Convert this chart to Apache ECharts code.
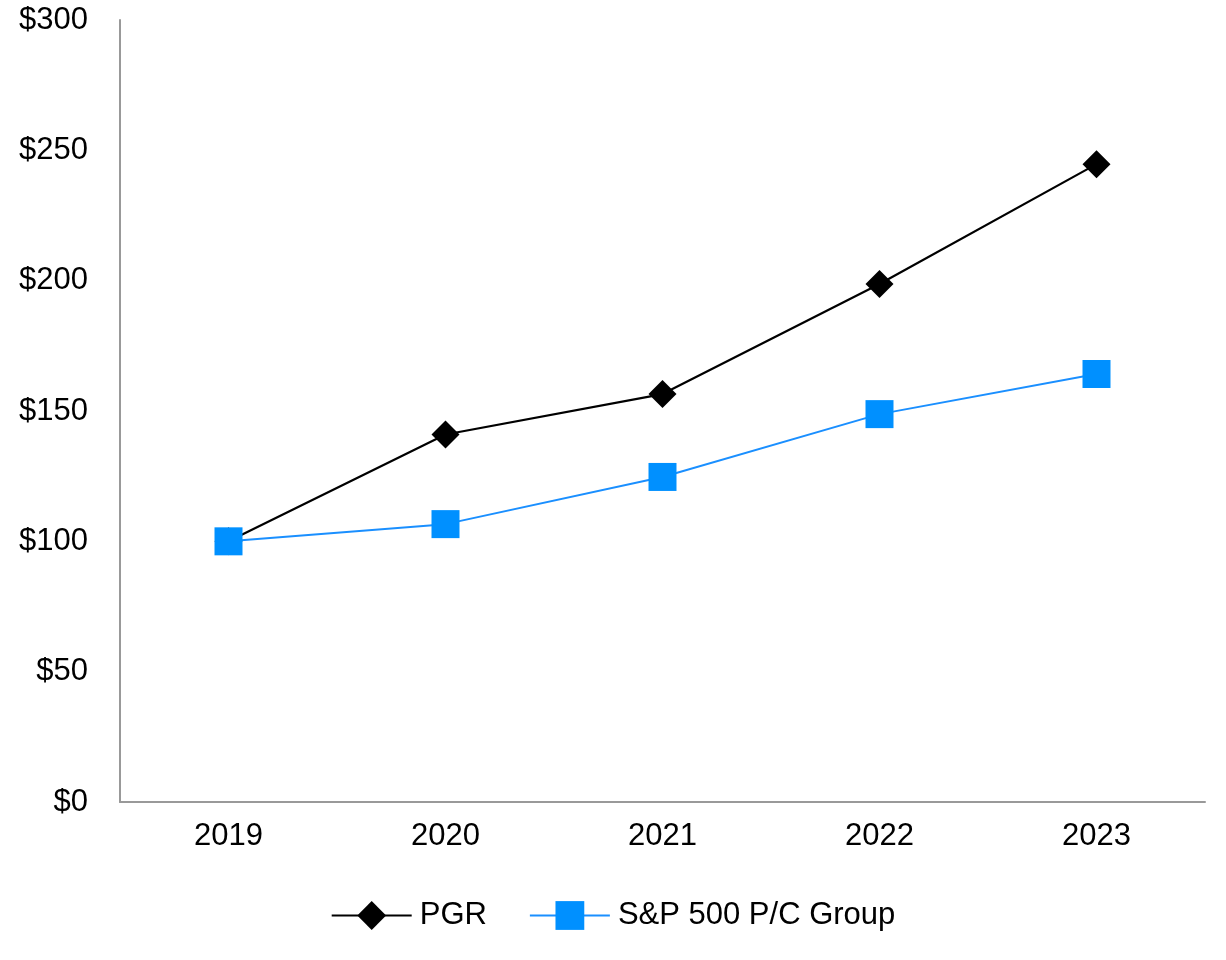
<!DOCTYPE html>
<html>
<head>
<meta charset="utf-8">
<script src="https://cdn.jsdelivr.net/npm/echarts@6/dist/echarts.min.js"></script>
<style>html,body{margin:0;padding:0;background:#fff;}#c{width:1226px;height:960px;}</style>
</head>
<body>
<div id="c"></div>
<script>
const categories = ['2019', '2020', '2021', '2022', '2023'];
const pgr = [100, 141, 156.5, 198.7, 244.7];
const spGroup = [100, 106.6, 124.7, 148.8, 164.2];
const yTicks = [0, 50, 100, 150, 200, 250, 300];

const chart = echarts.init(document.getElementById('c'));
const font = 'Liberation Sans, Arial, sans-serif';
chart.setOption({
  animation: false,
  grid: { left: 120, right: 21, top: 20, bottom: 158 },
  xAxis: {
    type: 'category',
    data: categories,
    boundaryGap: true,
    axisLine: { lineStyle: { color: '#999999', width: 2 } },
    axisTick: { alignWithLabel: true, length: 10, lineStyle: { color: '#999999', width: 2 } },
    axisLabel: { color: '#000', fontSize: 31, fontFamily: font, margin: 19 },
    splitLine: { show: false }
  },
  yAxis: {
    type: 'value',
    min: yTicks[0],
    max: yTicks[yTicks.length - 1],
    interval: 50,
    axisLine: { show: true, lineStyle: { color: '#999999', width: 2 } },
    axisTick: { show: false },
    splitLine: { show: false },
    axisLabel: { color: '#000', fontSize: 31, fontFamily: font, margin: 32, formatter: v => '$' + v }
  },
  legend: {
    bottom: 24,
    left: 'center',
    itemWidth: 80,
    itemHeight: 36,
    itemGap: 42,
    textStyle: { color: '#000', fontSize: 31, fontFamily: font, padding: [0, 0, 0, 3] },
    data: ['PGR', 'S&P 500 P/C Group']
  },
  series: [
    {
      name: 'PGR', type: 'line', data: pgr,
      symbol: 'diamond', symbolSize: 28,
      lineStyle: { color: '#000', width: 2.2 },
      itemStyle: { color: '#000' }
    },
    {
      name: 'S&P 500 P/C Group', type: 'line', data: spGroup,
      symbol: 'rect', symbolSize: 28,
      lineStyle: { color: '#1a8fff', width: 2 },
      itemStyle: { color: '#0090ff' }
    }
  ]
});
</script>
</body>
</html>
